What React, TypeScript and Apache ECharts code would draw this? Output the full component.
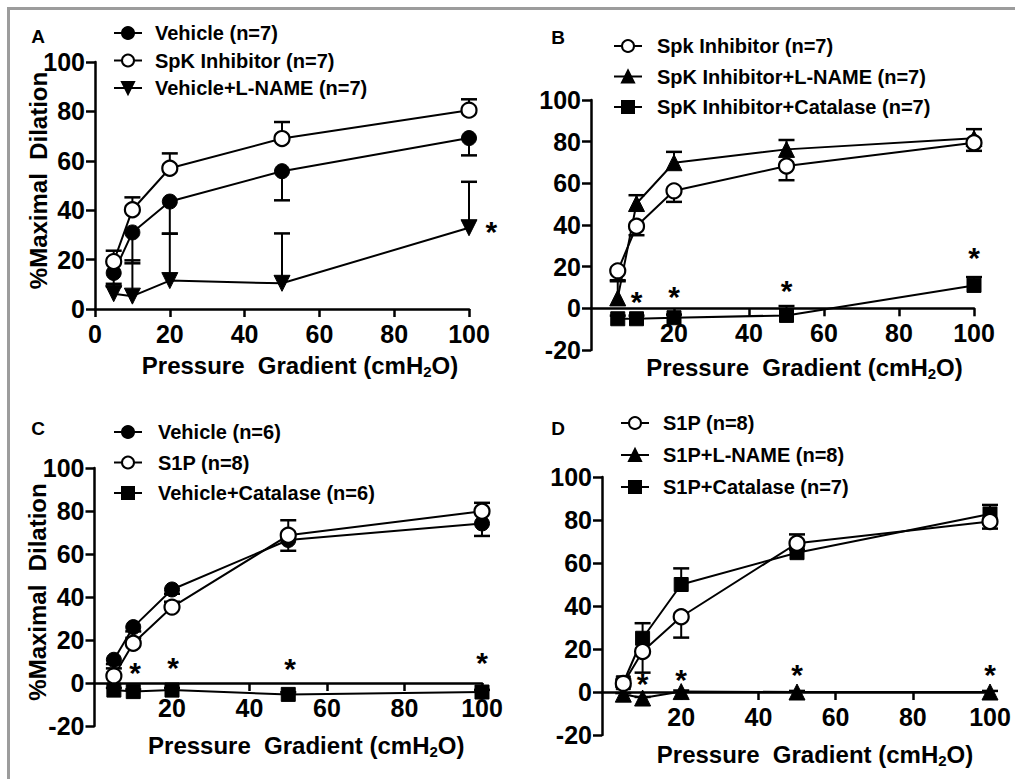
import React, { useEffect, useRef } from "react";
import * as echarts from "echarts";

const FONT = "'Liberation Sans', Arial, Helvetica, sans-serif";

// x categories (pressure gradient, cmH2O)
const pressure = [5, 10, 20, 50, 100];
const xTickValues = [0, 20, 40, 60, 80, 100];

// Panel A
const aVehicle = [14.6, 31, 43.5, 55.8, 69.2];
const aVehicleErr = [5.5, 12.5, 13, 11.8, 7]; // drawn downward
const aSpk = [19.2, 40.2, 57, 69, 80.5];
const aSpkErr = [4.4, 5, 6, 6.7, 4.4]; // drawn upward
const aLname = [6.2, 5.2, 11.5, 10.4, 32.9];
const aLnameErr = [4, 14.5, 19, 20.2, 18.6]; // drawn upward
const aStars = [[106, 33]];

// Panel B
const bSpk = [18, 39.4, 56.4, 68.3, 79.5];
const bSpkErr = [4.5, 4.3, 5.3, 6.8, 3.9]; // down
const bLname = [5, 50.3, 69.9, 76.3, 81.6];
const bLnameErr = [8, 4, 5.2, 4.5, 4.4]; // up
const bCat = [-5, -5, -4.5, -3.4, 11];
const bCatErr = [1.5, 1.5, 1.5, 4.5, 4]; // up
const bStars = [[10, 5.5], [20, 7.8], [50, 10.6], [100, 26.4]];

// Panel C
const cVehicle = [10.8, 26, 43.5, 66.5, 74.2];
const cVehicleErr = [2, 2, 2, 5, 5.8]; // down
const cS1p = [3.3, 18.5, 35.3, 68.7, 79.9];
const cS1pErr = [3.5, 2.5, 2.5, 7, 3.9]; // up
const cCat = [-3.3, -4, -3.3, -5.3, -4.2];
const cCatErr = [1, 1, 1, 1, 1]; // up
const cStars = [[10.5, 7], [20.3, 9.5], [50.5, 9], [100, 11.8]];

// Panel D
const dS1p = [4, 18.8, 35, 69.2, 79.3];
const dS1pErr = [1.5, 9.8, 9.7, 3, 3.3]; // down
const dLname = [-1, -2.8, 0.2, 0, 0];
const dLnameErr = [0.5, 0.5, 0.5, 0.5, 0.5]; // up
const dCat = [4.3, 25, 50, 64.8, 82.8];
const dCatErr = [1.5, 7, 7.5, 8.5, 4.2]; // up
const dStars = [[10, 6], [20, 8], [50, 10.2], [100, 10.2]];

type Marker = "filled" | "open" | "down" | "up" | "square";

const markerStyle = (m: Marker) => {
  switch (m) {
    case "filled":
      return { symbol: "circle", symbolSize: 15, symbolRotate: 0, itemStyle: { color: "#000", borderColor: "#000", borderWidth: 1 } };
    case "open":
      return { symbol: "circle", symbolSize: 15, symbolRotate: 0, itemStyle: { color: "#fff", borderColor: "#000", borderWidth: 2.2 } };
    case "down":
      return { symbol: "triangle", symbolSize: 16, symbolRotate: 180, itemStyle: { color: "#000", borderColor: "#000", borderWidth: 1 } };
    case "up":
      return { symbol: "triangle", symbolSize: 16, symbolRotate: 0, itemStyle: { color: "#000", borderColor: "#000", borderWidth: 1 } };
    default:
      return { symbol: "rect", symbolSize: 14, symbolRotate: 0, itemStyle: { color: "#000", borderColor: "#000", borderWidth: 1 } };
  }
};

function lineSeries(name: string, vals: number[], m: Marker, gi: number) {
  return {
    type: "line",
    name,
    xAxisIndex: gi,
    yAxisIndex: gi,
    data: pressure.map((x, i) => [x, vals[i]]),
    lineStyle: { color: "#000", width: 2 },
    ...markerStyle(m),
    z: 4,
    clip: false,
  };
}

function errSeries(vals: number[], errs: number[], dir: number, gi: number) {
  return {
    type: "custom",
    xAxisIndex: gi,
    yAxisIndex: gi,
    z: 2,
    clip: false,
    data: pressure.map((x, i) => [x, vals[i], vals[i] + dir * errs[i]]),
    encode: { x: 0, y: [1, 2] },
    renderItem: (_p: any, api: any) => {
      const p = api.coord([api.value(0), api.value(1)]);
      const e = api.coord([api.value(0), api.value(2)]);
      return {
        type: "group",
        children: [
          { type: "line", shape: { x1: p[0], y1: p[1], x2: e[0], y2: e[1] }, style: { stroke: "#000", lineWidth: 2 } },
          { type: "line", shape: { x1: e[0] - 8, y1: e[1], x2: e[0] + 8, y2: e[1] }, style: { stroke: "#000", lineWidth: 2.5 } },
        ],
      };
    },
  };
}

function starSeries(stars: number[][], gi: number) {
  return {
    type: "custom",
    xAxisIndex: gi,
    yAxisIndex: gi,
    z: 5,
    clip: false,
    data: stars,
    renderItem: (_p: any, api: any) => {
      const p = api.coord([api.value(0), api.value(1)]);
      return {
        type: "text",
        x: p[0],
        y: p[1] + 4.5,
        style: { text: "*", fill: "#000", font: `bold 30px ${FONT}`, align: "center", verticalAlign: "middle" },
      };
    },
  };
}

// plot areas of the four panels
const grids = [
  { left: 95, top: 62, width: 374, height: 247 },
  { left: 599, top: 100, width: 375, height: 250 },
  { left: 94.5, top: 468, width: 387.5, height: 258 },
  { left: 604, top: 477, width: 386, height: 258 },
];
const yOffsets = [0, 8, 0, 2];
// heights from panel top down to the y = 0 line (panels B, C, D)
const zeroDepth = [0, 208.3, 215, 215];
const xNameGaps = [42, 45, 48, 48];

// helper grids whose bottom edge sits at y = 0 of panels B, C, D and which start at the y axis line
const axisGrids = [1, 2, 3].map((i) => ({
  left: grids[i].left - yOffsets[i],
  top: grids[i].top,
  width: grids[i].width + yOffsets[i],
  height: zeroDepth[i],
}));
const axisMins = [1, 2, 3].map((i) => (-yOffsets[i] * 100) / grids[i].width);

const tickLabel = { color: "#000", fontSize: 25, fontWeight: "bold", fontFamily: FONT };

const xName = "{t|Pressure  Gradient (cmH}{s|2}{t|O)}";

function visibleX(gridIndex: number, nameGap: number, showZero: boolean, min: number) {
  const values = showZero ? xTickValues : xTickValues.filter((v) => v !== 0);
  return {
    gridIndex,
    type: "value",
    min,
    max: 100,
    axisLine: { show: true, onZero: false, lineStyle: { color: "#000", width: 2.5 } },
    axisTick: { show: true, length: 8, customValues: values, lineStyle: { color: "#000", width: 2.5 } },
    axisLabel: {
      ...tickLabel,
      margin: 12,
      customValues: values,
      formatter: (v: number) => String(v),
    },
    splitLine: { show: false },
    name: xName,
    nameLocation: "middle",
    nameGap,
    nameMoveOverlap: false,
    nameTextStyle: {
      padding: [0, 0, 0, 36],
      rich: {
        t: { fontSize: 24, fontWeight: "bold", fontFamily: FONT, color: "#000", lineHeight: 28 },
        s: { fontSize: 15, fontWeight: "bold", fontFamily: FONT, color: "#000", verticalAlign: "bottom", lineHeight: 15 },
      },
    },
  };
}

function makeOption() {
  const xAxis: any[] = grids.map((_, i) =>
    i === 0
      ? visibleX(0, xNameGaps[0], true, 0)
      : { gridIndex: i, type: "value", min: 0, max: 100, interval: 20, show: false }
  );
  axisGrids.forEach((_, k) => {
    const ax: any = visibleX(4 + k, xNameGaps[k + 1], false, axisMins[k]);
    // keep the name centred on the data range (shift by half of the extra offset)
    ax.nameTextStyle.padding = [0, 0, 0, 36 + yOffsets[k + 1]];
    xAxis.push(ax);
  });

  const yAxis: any[] = grids.map((_, i) => ({
    gridIndex: i,
    type: "value",
    min: i === 0 ? 0 : -20,
    max: 100,
    interval: 20,
    offset: yOffsets[i],
    axisLine: { show: true, onZero: false, lineStyle: { color: "#000", width: 2.5 } },
    axisTick: { show: true, length: 9, lineStyle: { color: "#000", width: 2.5 } },
    axisLabel: { ...tickLabel, margin: 10 },
    splitLine: { show: false },
    name: i === 0 || i === 2 ? "%Maximal  Dilation" : "",
    nameLocation: "middle",
    nameGap: 45,
    nameMoveOverlap: false,
    nameTextStyle: { fontSize: 24, fontWeight: "bold", fontFamily: FONT, color: "#000", padding: [0, 0, 0, 10] },
  }));
  axisGrids.forEach((_, k) =>
    yAxis.push({ gridIndex: 4 + k, type: "value", min: 0, max: 1, show: false })
  );

  const legendNames = [
    ["Vehicle (n=7)", "SpK Inhibitor (n=7)", "Vehicle+L-NAME (n=7)"],
    ["Spk Inhibitor (n=7)", "SpK Inhibitor+L-NAME (n=7)", "SpK Inhibitor+Catalase (n=7)"],
    ["Vehicle (n=6)", "S1P (n=8)", "Vehicle+Catalase (n=6)"],
    ["S1P (n=8)", "S1P+L-NAME (n=8)", "S1P+Catalase (n=7)"],
  ];
  const legendPos = [
    { left: 113, top: 23, itemGap: 7.5, pad: 8 },
    { left: 613, top: 36, itemGap: 10.5, pad: 10 },
    { left: 113, top: 422, itemGap: 10.5, pad: 11 },
    { left: 620, top: 413, itemGap: 12, pad: 9 },
  ];
  const legend = legendNames.map((names, i) => ({
    data: names,
    orient: "vertical",
    left: legendPos[i].left,
    top: legendPos[i].top,
    itemGap: legendPos[i].itemGap,
    itemWidth: 28,
    itemHeight: 15,
    padding: 0,
    selectedMode: false,
    textStyle: {
      fontSize: 20,
      fontWeight: "bold",
      fontFamily: FONT,
      color: "#000",
      lineHeight: 20,
      padding: [0, 0, 0, legendPos[i].pad],
    },
  }));

  const series: any[] = [
    // A
    errSeries(aVehicle, aVehicleErr, -1, 0),
    errSeries(aSpk, aSpkErr, 1, 0),
    errSeries(aLname, aLnameErr, 1, 0),
    lineSeries("Vehicle+L-NAME (n=7)", aLname, "down", 0),
    lineSeries("Vehicle (n=7)", aVehicle, "filled", 0),
    lineSeries("SpK Inhibitor (n=7)", aSpk, "open", 0),
    starSeries(aStars, 0),
    // B
    errSeries(bSpk, bSpkErr, -1, 1),
    errSeries(bLname, bLnameErr, 1, 1),
    errSeries(bCat, bCatErr, 1, 1),
    lineSeries("SpK Inhibitor+Catalase (n=7)", bCat, "square", 1),
    lineSeries("SpK Inhibitor+L-NAME (n=7)", bLname, "up", 1),
    lineSeries("Spk Inhibitor (n=7)", bSpk, "open", 1),
    starSeries(bStars, 1),
    // C
    errSeries(cVehicle, cVehicleErr, -1, 2),
    errSeries(cS1p, cS1pErr, 1, 2),
    errSeries(cCat, cCatErr, 1, 2),
    lineSeries("Vehicle+Catalase (n=6)", cCat, "square", 2),
    lineSeries("Vehicle (n=6)", cVehicle, "filled", 2),
    lineSeries("S1P (n=8)", cS1p, "open", 2),
    starSeries(cStars, 2),
    // D
    errSeries(dS1p, dS1pErr, -1, 3),
    errSeries(dLname, dLnameErr, 1, 3),
    errSeries(dCat, dCatErr, 1, 3),
    lineSeries("S1P+L-NAME (n=8)", dLname, "up", 3),
    lineSeries("S1P+Catalase (n=7)", dCat, "square", 3),
    lineSeries("S1P (n=8)", dS1p, "open", 3),
    starSeries(dStars, 3),
  ];

  const letter = (text: string, x: number, y: number) => ({
    type: "text",
    x,
    y,
    style: { text, fill: "#000", font: `bold 19px ${FONT}`, align: "center", verticalAlign: "middle" },
  });

  return {
    animation: false,
    backgroundColor: "#fff",
    grid: [...grids, ...axisGrids].map((g) => ({ ...g, containLabel: false, outerBoundsMode: "none" })),
    xAxis,
    yAxis,
    legend,
    series,
    graphic: [
      { type: "rect", shape: { x: 7, y: 7, width: 1008, height: 3 }, style: { fill: "#9c9c9c" } },
      { type: "rect", shape: { x: 7, y: 7, width: 3, height: 772 }, style: { fill: "#9c9c9c" } },
      letter("A", 38, 36),
      letter("B", 558, 37),
      letter("C", 38, 428),
      letter("D", 558, 428),
    ],
  };
}

export default function App() {
  const ref = useRef<HTMLDivElement>(null);
  useEffect(() => {
    if (!ref.current) return;
    const chart = echarts.init(ref.current, undefined, { renderer: "svg" });
    chart.setOption(makeOption() as any);
    return () => chart.dispose();
  }, []);
  return (
    <div
      ref={ref}
      style={{ position: "absolute", left: 0, top: 0, width: 1015, height: 779, background: "#fff" }}
    />
  );
}
